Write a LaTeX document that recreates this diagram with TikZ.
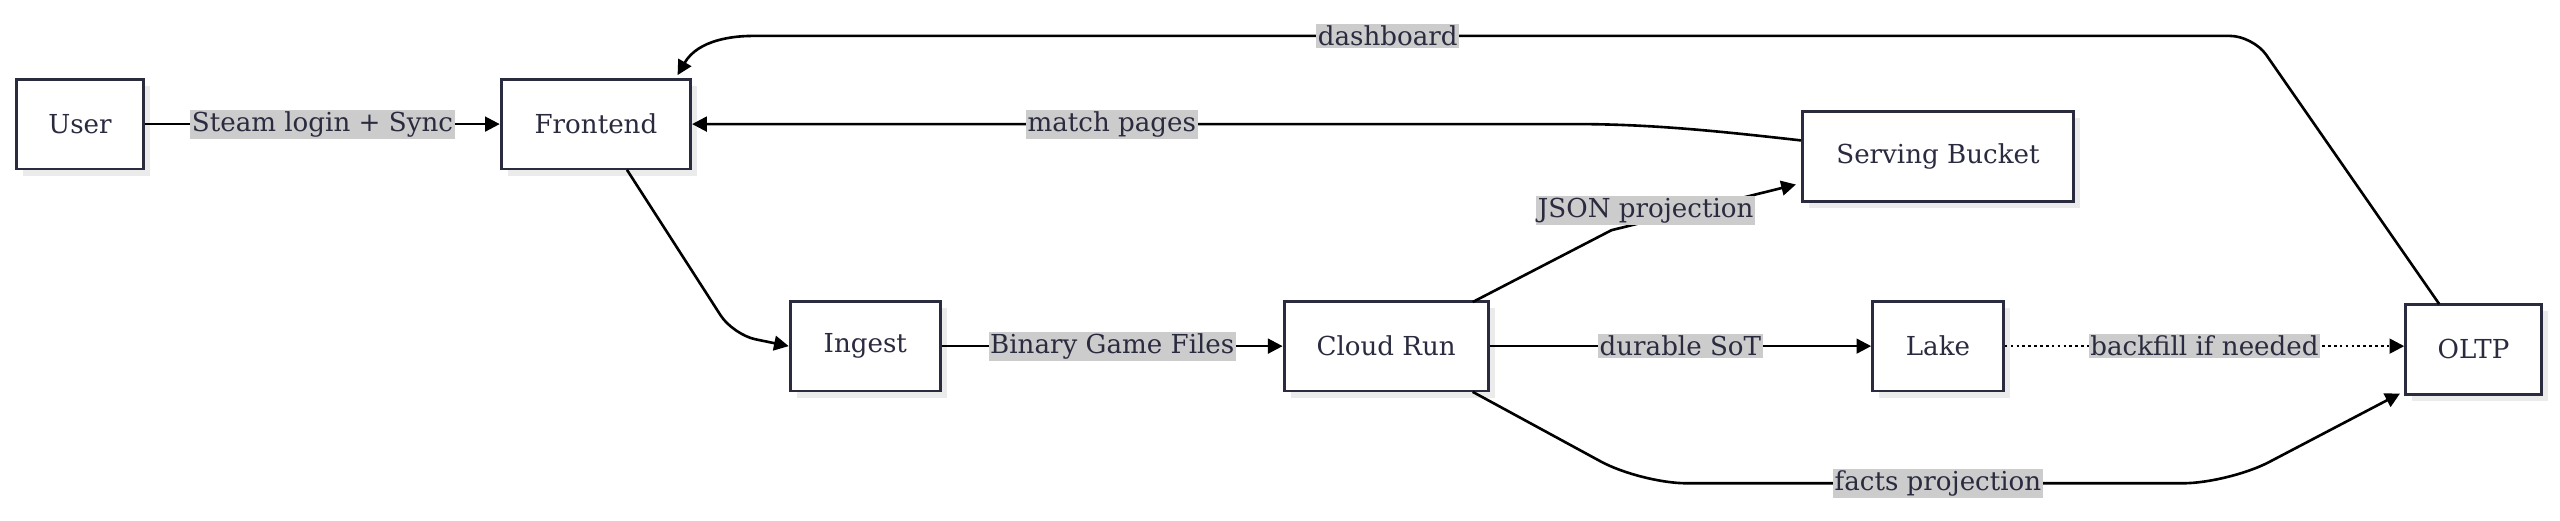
\documentclass[tikz,border=0pt]{standalone}
\usepackage{fontspec}
\setmainfont{DejaVu Serif}
\usetikzlibrary{arrows.meta,shadows}
\definecolor{bx}{HTML}{2B2B40}
\definecolor{lb}{HTML}{CCCCCC}
\begin{document}
\begin{tikzpicture}[x=1pt,y=-1pt,
  box/.style={draw=bx,line width=1.8pt,fill=white,minimum height=55pt,font=\fontsize{16}{18}\selectfont,text=bx,
    drop shadow={shadow xshift=4pt,shadow yshift=-4pt,fill=black!8,opacity=1}},
  lab/.style={fill=lb,sharp corners,inner sep=1pt,solid,font=\fontsize{16}{18}\selectfont,text=bx},
  con/.style={line width=1.6pt,-{Triangle[length=9pt,width=9pt]},rounded corners=14pt}]
\useasboundingbox (0,0) rectangle (1568,319);
\node[box,minimum width=78pt] (user) at (49,76) {User};
\node[box,minimum width=116pt] (fe) at (365,76) {Frontend};
\node[box,minimum width=166pt] (sb) at (1187,96) {Serving Bucket};
\node[box,minimum width=92pt] (ing) at (530,212) {Ingest};
\node[box,minimum width=125pt] (cr) at (849,212) {Cloud Run};
\node[box,minimum width=80pt] (lake) at (1187,212) {Lake};
\node[box,minimum width=83pt] (oltp) at (1515,214) {OLTP};
\coordinate (o1) at (1494,186.2);
\coordinate (f1) at (415,46);
\draw[con] (user) -- node[lab]{Steam login + Sync} (fe);
\draw[con] (o1) -- (1380,22) -- (475,22) to[out=180,in=60] (f1);
\node[lab] (dl) at (850,22) {dashboard};
\draw[con,rounded corners=0pt] (sb.west |- 0,86) .. controls (1050,80) and (1010,76) .. (965,76) -- (fe.east);
\node[lab] (mp) at (681,76) {match pages};
\draw[con] (384,104) -- (449,205) -- (ing.west);
\draw[con,rounded corners=0pt] (ing) -- node[lab]{Binary Game Files} (cr);
\draw[con,rounded corners=0pt] (902,185) -- (987,141) -- (1100,113);
\node[lab] (jp) at (1008,129) {JSON projection};
\draw[con,rounded corners=0pt] (cr) -- node[lab]{durable SoT} (lake);
\draw[con,dotted,rounded corners=0pt] (lake) -- node[lab]{backfill if needed} (oltp.west |- lake);
\draw[con,rounded corners=28pt] (902,240) -- (1005,296) -- (1365,296) -- (1470,241);
\node[lab] (fp) at (1187,296) {facts projection};
\end{tikzpicture}
\end{document}
